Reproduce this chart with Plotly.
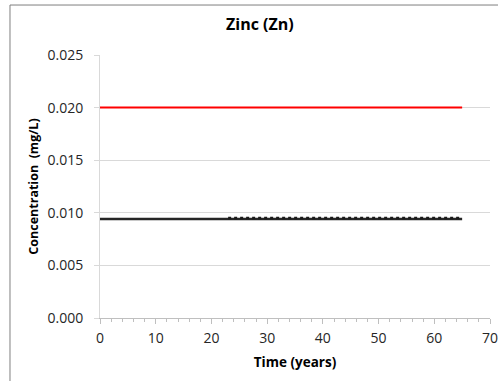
import plotly.graph_objects as go

# Data
limit_time = [0, 65]
limit_conc = [0.020, 0.020]
baseline_time = [0, 65]
baseline_conc = [0.0094, 0.0094]
predicted_time = [23, 50, 65]
predicted_conc = [0.0095, 0.0095, 0.0095]

x_ticks = [0, 10, 20, 30, 40, 50, 60, 70]
y_ticks = [0.000, 0.005, 0.010, 0.015, 0.020, 0.025]

FONT = "Open Sans"

fig = go.Figure()
fig.add_trace(go.Scatter(x=limit_time, y=limit_conc, mode="lines",
                         line=dict(color="#ff0000", width=2), showlegend=False))
fig.add_trace(go.Scatter(x=baseline_time, y=baseline_conc, mode="lines",
                         line=dict(color="#262626", width=2.5), showlegend=False))
fig.add_trace(go.Scatter(x=predicted_time, y=predicted_conc, mode="lines",
                         line=dict(color="#1a1a1a", width=2.5, dash="dot"), showlegend=False))

fig.update_layout(
    width=498, height=381,
    margin=dict(l=100, r=8, t=55, b=63),
    paper_bgcolor="white", plot_bgcolor="white",
    font=dict(family=FONT, size=14, color="#262626"),
    title=dict(text="<b>Zinc (Zn)</b>", x=0.41, xref="paper", xanchor="center",
               y=1.0, yref="container", yanchor="top", pad=dict(t=19),
               font=dict(family=FONT, size=16, color="#000000")),
    xaxis=dict(range=[0, 70], tickvals=x_ticks, showgrid=False, zeroline=False,
               automargin=False, ticklabeloverflow="allow",
               showline=True, linecolor="#bfbfbf", linewidth=1,
               ticks="outside", ticklen=5, tickcolor="#bfbfbf",
               ticklabelstandoff=2,
               minor=dict(dtick=2, ticks="outside", ticklen=3, tickcolor="#bfbfbf"),
               tickfont=dict(size=14, family=FONT, color="#262626"),
               title=dict(text="<b>Time (years)</b>", standoff=11,
                          font=dict(size=13.5, family=FONT, color="#000000"))),
    yaxis=dict(range=[0, 0.025], tickvals=y_ticks, tickformat=".3f",
               automargin=False, ticklabeloverflow="allow",
               showgrid=True, gridcolor="#d9d9d9", gridwidth=1, zeroline=False,
               showline=True, linecolor="#d9d9d9", linewidth=1,
               ticks="outside", ticklen=5, tickcolor="#d9d9d9",
               ticklabelstandoff=8,
               tickfont=dict(size=14, family=FONT, color="#262626"),
               title=dict(text="<b>Concentration  (mg/L)</b>", standoff=6,
                          font=dict(size=12.5, family=FONT, color="#000000"))),
    shapes=[
        dict(type="line", xref="paper", yref="paper", x0=-0.2308, x1=-0.2308,
             y0=1.19, y1=-0.4, line=dict(color="#7f7f7f", width=1)),
        dict(type="line", xref="paper", yref="paper", x0=-0.2308, x1=1.1,
             y0=1.19, y1=1.19, line=dict(color="#7f7f7f", width=1)),
    ],
)

fig.write_html("out.html", config={"displayModeBar": False},
               post_script="document.body.style.margin='0';")
